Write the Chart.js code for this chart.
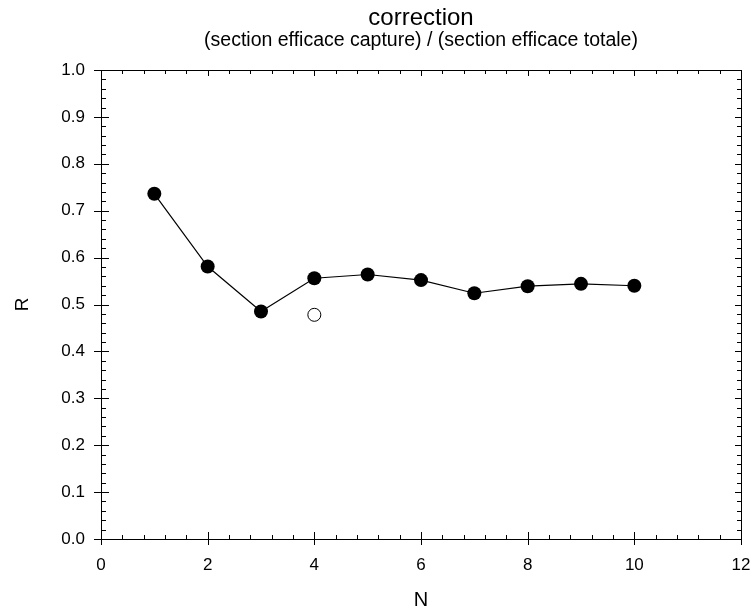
<!DOCTYPE html>
<html>
<head>
<meta charset="utf-8">
<script src="https://cdn.jsdelivr.net/npm/chart.js@4"></script>
<style>
  body { margin: 0; background: #fff; }
  canvas { display: block; }
</style>
</head>
<body>
<canvas id="chart" width="752" height="612"></canvas>
<script>
// values
const nValues = [1, 2, 3, 4, 5, 6, 7, 8, 9, 10];
const rValues = [0.736, 0.581, 0.485, 0.556, 0.564, 0.552, 0.524, 0.539, 0.544, 0.540];
const openN = [4];
const openR = [0.478];
const titleText = 'correction';
const subtitleText = '(section efficace capture) / (section efficace totale)';

const FONT = '"Liberation Sans", Arial, sans-serif';

const frameTicks = {
    id: 'frameTicks',
    beforeDatasetsDraw(chart) {
        const { ctx, chartArea: a, scales: { x, y } } = chart;
        ctx.save();
        ctx.strokeStyle = '#000';
        ctx.lineWidth = 1;
        ctx.strokeRect(Math.round(a.left) + 0.5, Math.round(a.top) + 0.5,
            Math.round(a.right - a.left), Math.round(a.bottom - a.top));
        ctx.beginPath();
        // x ticks: major every 2, minor every 0.4
        for (let i = 0; i <= 30; i++) {
            const px = Math.round(x.getPixelForValue(i * 0.4)) + 0.5;
            if (i % 5 === 0) {
                ctx.moveTo(px, a.bottom + 6); ctx.lineTo(px, a.bottom - 7);
                ctx.moveTo(px, a.top); ctx.lineTo(px, a.top + 6);
            } else {
                ctx.moveTo(px, a.bottom); ctx.lineTo(px, a.bottom - 4);
                ctx.moveTo(px, a.top); ctx.lineTo(px, a.top + 4);
            }
        }
        // y ticks: major every 0.1, minor every 0.02
        for (let i = 0; i <= 50; i++) {
            const py = Math.round(y.getPixelForValue(i * 0.02)) + 0.5;
            if (i % 5 === 0) {
                ctx.moveTo(a.left - 7, py); ctx.lineTo(a.left + 8, py);
                ctx.moveTo(a.right, py); ctx.lineTo(a.right - 6, py);
            } else {
                ctx.moveTo(a.left, py); ctx.lineTo(a.left + 5, py);
                ctx.moveTo(a.right, py); ctx.lineTo(a.right - 4, py);
            }
        }
        ctx.stroke();
        ctx.restore();
    },
    afterDraw(chart) {
        const { ctx, chartArea: a } = chart;
        const cx = (a.left + a.right) / 2;
        ctx.save();
        ctx.fillStyle = '#000';
        ctx.textAlign = 'center';
        ctx.textBaseline = 'alphabetic';
        ctx.font = '24px ' + FONT;
        ctx.fillText(titleText, cx, 25);
        ctx.font = '19.5px ' + FONT;
        ctx.fillText(subtitleText, cx, 45.5);
        ctx.restore();
    }
};

const noOverflow = (s) => {
    s.paddingLeft = 0; s.paddingRight = 0;
    s.paddingTop = 0; s.paddingBottom = 0;
};

const chart = new Chart(document.getElementById('chart'), {
    type: 'scatter',
    data: {
        datasets: [{
            data: nValues.map((n, i) => ({ x: n, y: rValues[i] })),
            showLine: true,
            borderColor: '#000',
            borderWidth: 1.2,
            backgroundColor: '#000',
            pointRadius: 7,
            pointBorderWidth: 0,
            pointBackgroundColor: '#000',
        }, {
            data: openN.map((n, i) => ({ x: n, y: openR[i] })),
            showLine: false,
            pointRadius: 6.5,
            pointBorderWidth: 1,
            pointBorderColor: '#000',
            pointBackgroundColor: '#fff',
        }],
    },
    options: {
        responsive: false,
        animation: false,
        devicePixelRatio: 1,
        layout: { padding: { top: 70, right: 11, left: 0, bottom: 0 } },
        plugins: {
            legend: { display: false },
            tooltip: { enabled: false },
        },
        scales: {
            x: {
                type: 'linear',
                min: 0,
                max: 12,
                afterFit: (s) => { s.height = 73; noOverflow(s); },
                grid: { display: false, drawTicks: false },
                border: { display: false },
                ticks: {
                    stepSize: 2,
                    padding: 16,
                    color: '#000',
                    font: { family: FONT, size: 17 },
                },
                title: {
                    display: true,
                    text: 'N',
                    color: '#000',
                    font: { family: FONT, size: 20 },
                    padding: { top: 0, bottom: 0 },
                },
            },
            y: {
                type: 'linear',
                min: 0,
                max: 1,
                afterFit: (s) => { s.width = 101; noOverflow(s); },
                grid: { display: false, drawTicks: false },
                border: { display: false },
                ticks: {
                    stepSize: 0.1,
                    padding: 16,
                    color: '#000',
                    font: { family: FONT, size: 17 },
                    callback: (v) => v.toFixed(1),
                },
                title: {
                    display: true,
                    text: 'R',
                    color: '#000',
                    font: { family: FONT, size: 19 },
                    padding: { top: 11, bottom: 0 },
                },
            },
        },
    },
    plugins: [frameTicks],
});
</script>
</body>
</html>
